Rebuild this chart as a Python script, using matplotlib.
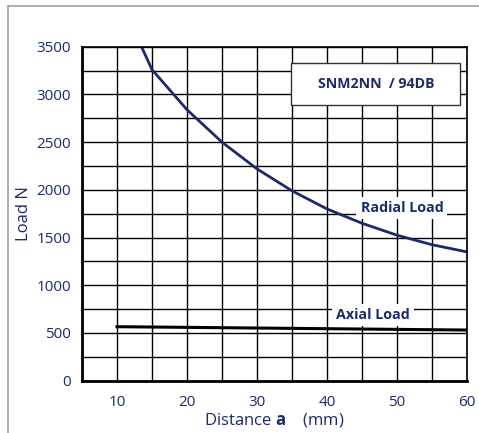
import matplotlib.pyplot as plt
from matplotlib.lines import Line2D
from matplotlib.patches import Rectangle

plt.rcParams['font.family'] = ['Open Sans', 'DejaVu Sans']
plt.rcParams['mathtext.fontset'] = 'custom'
plt.rcParams['mathtext.bf'] = 'Open Sans:bold'

NAVY = '#1c2a6b'

# Values
radial_x = [13.5, 15, 20, 25, 30, 35, 40, 45, 50, 55, 60]
radial_load = [3500, 3260, 2840, 2500, 2220, 1990, 1800, 1650, 1525, 1425, 1350]
axial_x = [10, 20, 30, 40, 50, 60]
axial_load = [566, 559, 552, 545, 538, 531]

x_ticks = [10, 20, 30, 40, 50, 60]
y_ticks = [0, 500, 1000, 1500, 2000, 2500, 3000, 3500]

fig = plt.figure(figsize=(4.79, 4.33), dpi=100)
ax = fig.add_axes([0.1712, 0.1208, 0.8038, 0.7712])

# light grey frame around the figure
fig.add_artist(Line2D([8 / 479, 8 / 479], [0, 1 - 6 / 433], color='#a0a0a0', lw=1.2))
fig.add_artist(Line2D([8 / 479, 1], [1 - 6 / 433, 1 - 6 / 433], color='#a0a0a0', lw=1.2))

ax.set_xlim(5, 60)
ax.set_ylim(0, 3500)
ax.set_xticks(x_ticks)
ax.set_yticks(y_ticks)
ax.set_xticks(range(5, 61, 5), minor=True)
ax.set_yticks(range(0, 3501, 250), minor=True)
ax.grid(which='both', color='black', lw=1.0)
ax.set_axisbelow(True)
ax.tick_params(which='both', length=0)
ax.tick_params(axis='both', labelsize=11, labelcolor=NAVY)
ax.tick_params(axis='y', pad=8)
ax.tick_params(axis='x', pad=10)

for side in ['left', 'bottom']:
    ax.spines[side].set_linewidth(2)
for side in ['top', 'right']:
    ax.spines[side].set_linewidth(1.2)

ax.plot(radial_x, radial_load, color=NAVY, lw=2)
ax.plot(axial_x, axial_load, color='black', lw=2.2)

ax.set_xlabel('Distance $\\mathbf{a}$    (mm)', color=NAVY, fontsize=12, labelpad=1)
ax.set_ylabel('Load N', color=NAVY, fontsize=12, labelpad=3)

ax.text(50.7, 1808, 'Radial Load', color=NAVY, fontsize=10.3, fontweight='bold',
        ha='center', va='center', bbox=dict(facecolor='white', edgecolor='none', pad=3))
ax.text(46.6, 690, 'Axial Load', color=NAVY, fontsize=10.3, fontweight='bold',
        ha='center', va='center', bbox=dict(facecolor='white', edgecolor='none', pad=3))

ax.add_patch(Rectangle((34.9, 2890), 24.1, 440, facecolor='white',
                       edgecolor='#333333', lw=1.0, zorder=3))
ax.text(47.1, 3110, 'SNM2NN  / 94DB', color=NAVY, fontsize=10.2, fontweight='bold',
        ha='center', va='center', zorder=4)

fig.savefig('out.png', dpi=100)
